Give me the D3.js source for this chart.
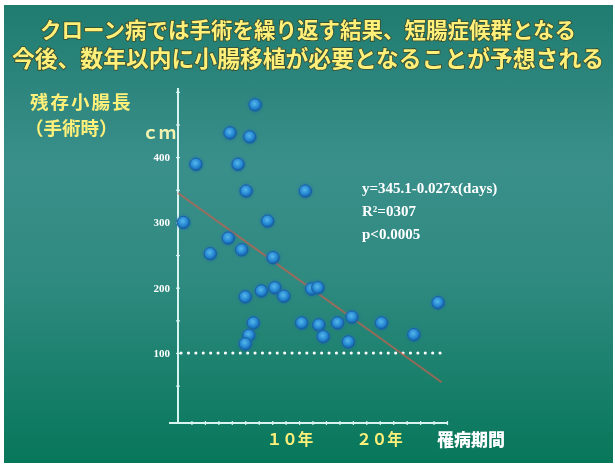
<!DOCTYPE html>
<html>
<head>
<meta charset="utf-8">
<script src="https://cdn.jsdelivr.net/npm/d3@7/dist/d3.min.js"></script>
<style>
  html, body { margin: 0; padding: 0; background: #ffffff; }
  svg { display: block; }
</style>
</head>
<body>
<svg id="chart" width="615" height="465"></svg>
<script>
// Title lines
const titleLines = [
  "クローン病では手術を繰り返す結果、短腸症候群となる",
  "今後、数年以内に小腸移植が必要となることが予想される"
];
// Axis labels
const yLabelLines = ["残存小腸長", "（手術時）"];
const yUnit = "ｃｍ";
const xLabel = "罹病期間";
const yTickValues = [100, 200, 300, 400];
const xTickLabels = [{ year: 10, text: "１０年" }, { year: 20, text: "２０年" }];
// Disease duration (years) and remaining small-bowel length (cm) at surgery
const durationYears = [8.6, 5.8, 8.0, 2.0, 6.7, 7.6, 14.2, 0.6, 10.0, 5.6, 7.1, 3.6, 10.6,
  7.5, 9.3, 10.8, 11.8, 14.9, 15.6, 8.4, 7.9, 7.5, 13.8, 15.7, 16.2, 17.8, 19.4, 19.0, 22.7, 26.3, 29.0];
const lengthCm = [480, 437, 431, 389, 389, 348, 348, 300, 302, 276, 258, 252, 246,
  186, 195, 200, 187, 198, 200, 146, 127, 114, 146, 143, 125, 146, 155, 117, 146, 128, 177];
// Regression: y = 345.1 - 0.027 x (x in days)
const regIntercept = 345.1;
const regSlopePerDay = -0.027;
const statLines = ["y=345.1-0.027x(days)", "R²=0307", "p<0.0005"];
const thresholdCm = 100;

const svg = d3.select("#chart");
const defs = svg.append("defs");

const bg = defs.append("linearGradient").attr("id", "bg")
  .attr("x1", 0).attr("y1", 0).attr("x2", 0).attr("y2", 1);
bg.append("stop").attr("offset", "0%").attr("stop-color", "#1f7c6f");
bg.append("stop").attr("offset", "35%").attr("stop-color", "#3a8f8b");
bg.append("stop").attr("offset", "60%").attr("stop-color", "#2f8a80");
bg.append("stop").attr("offset", "100%").attr("stop-color", "#07775a");

const dotGrad = defs.append("radialGradient").attr("id", "dot")
  .attr("cx", "45%").attr("cy", "40%").attr("r", "60%");
dotGrad.append("stop").attr("offset", "0%").attr("stop-color", "#56b8ec");
dotGrad.append("stop").attr("offset", "60%").attr("stop-color", "#2688d2");
dotGrad.append("stop").attr("offset", "100%").attr("stop-color", "#145ca4");

const soft = defs.append("filter").attr("id", "soft")
  .attr("x", "-20%").attr("y", "-20%").attr("width", "140%").attr("height", "140%");
soft.append("feGaussianBlur").attr("stdDeviation", 0.6);

const glow = defs.append("filter").attr("id", "glow")
  .attr("x", "-50%").attr("y", "-50%").attr("width", "200%").attr("height", "200%");
glow.append("feGaussianBlur").attr("in", "SourceGraphic").attr("stdDeviation", 1.6).attr("result", "b");
const gm = glow.append("feMerge");
gm.append("feMergeNode").attr("in", "b");
gm.append("feMergeNode").attr("in", "SourceGraphic");

svg.append("rect").attr("x", 4).attr("y", 5).attr("width", 609).attr("height", 458)
  .attr("fill", "url(#bg)");

// Title
svg.append("g").selectAll("text").data(titleLines).join("text")
  .attr("x", 308).attr("y", (d, i) => 38 + i * 29)
  .attr("text-anchor", "middle")
  .attr("font-family", "'Noto Sans CJK JP', sans-serif")
  .attr("font-weight", 700).attr("font-size", (d, i) => i === 0 ? 21.5 : 22.8)
  .attr("fill", "#fff07a").attr("stroke", "#3b4a2a").attr("stroke-width", 1.6)
  .attr("paint-order", "stroke").attr("filter", "url(#soft)")
  .text(d => d);

// Scales
const x = d3.scaleLinear().domain([0, 30]).range([178, 447]);
const y = d3.scaleLinear().domain([0, 500]).range([418.3, 91.8]);

const axisColor = "#d8f4f0";

// Y axis
const yAxis = d3.axisLeft(y).tickValues(d3.range(50, 501, 50)).tickSize(5).tickFormat("");
const gy = svg.append("g").attr("transform", "translate(178,0)").call(yAxis);
gy.select(".domain").remove();
gy.selectAll(".tick line").attr("stroke", axisColor).attr("stroke-width", 1.2)
  .attr("x2", -4).attr("transform", "translate(2,0)");
svg.append("line").attr("x1", 178).attr("x2", 178).attr("y1", 88).attr("y2", 424)
  .attr("stroke", axisColor).attr("stroke-width", 2);

svg.append("g").selectAll("text").data(yTickValues).join("text")
  .attr("x", 170).attr("y", d => y(d) + 4)
  .attr("text-anchor", "end")
  .attr("font-family", "'Liberation Serif', serif").attr("font-weight", 700)
  .attr("font-size", 11).attr("fill", "#ffffff").attr("filter", "url(#soft)")
  .text(d => d);

// X axis
const xAxis = d3.axisBottom(x).tickValues(d3.range(1.5, 30.1, 1.5)).tickSize(4).tickFormat("");
const gx = svg.append("g").attr("transform", "translate(0,423)").call(xAxis);
gx.select(".domain").remove();
gx.selectAll(".tick line").attr("stroke", axisColor).attr("stroke-width", 1.2)
  .attr("transform", "translate(0,-2)");
svg.append("line").attr("x1", 169).attr("x2", 447).attr("y1", 423).attr("y2", 423)
  .attr("stroke", axisColor).attr("stroke-width", 2);

svg.append("g").selectAll("text").data(xTickLabels).join("text")
  .attr("x", d => x(d.year) - 1).attr("y", 445)
  .attr("font-family", "'Noto Sans CJK JP', sans-serif").attr("font-weight", 700)
  .attr("font-size", 15.5).attr("fill", "#fff07a").attr("filter", "url(#soft)")
  .text(d => d.text);

svg.append("text").attr("x", 437).attr("y", 446)
  .attr("font-family", "'Noto Sans CJK JP', sans-serif").attr("font-weight", 900)
  .attr("font-size", 17).attr("fill", "#ffffff").attr("filter", "url(#soft)")
  .text(xLabel);

// Y axis title
svg.append("g").selectAll("text").data(yLabelLines).join("text")
  .attr("x", (d, i) => i === 0 ? 30 : 25).attr("y", (d, i) => 109 + i * 26)
  .attr("font-family", "'Noto Sans CJK JP', sans-serif").attr("font-weight", 700)
  .attr("font-size", 18.5).attr("letter-spacing", (d, i) => i === 0 ? 2 : 0)
  .attr("fill", "#fff07a").attr("filter", "url(#soft)")
  .text(d => d);
svg.append("text").attr("x", 142).attr("y", 139)
  .attr("font-family", "'Noto Sans CJK JP', sans-serif").attr("font-weight", 700)
  .attr("font-size", 17).attr("fill", "#f4f2b0").attr("filter", "url(#soft)")
  .text(yUnit);

// 100 cm threshold (dotted)
svg.append("line").attr("x1", 181).attr("x2", 447)
  .attr("y1", y(thresholdCm)).attr("y2", y(thresholdCm))
  .attr("stroke", "#ffffff").attr("stroke-width", 3)
  .attr("stroke-linecap", "round").attr("stroke-dasharray", "0.1,7.3");

// Regression line
const regEnd = 29.4;
const regY = yr => regIntercept + regSlopePerDay * yr * 365.25;
svg.append("line")
  .attr("x1", x(0)).attr("y1", y(regY(0)))
  .attr("x2", x(regEnd)).attr("y2", y(regY(regEnd)))
  .attr("stroke", "#c8604f").attr("stroke-opacity", 0.7).attr("stroke-width", 2);

// Points
const pts = durationYears.map((d, i) => ({ x: d, y: lengthCm[i] }));
svg.append("g").selectAll("circle").data(pts).join("circle")
  .attr("cx", d => x(d.x)).attr("cy", d => y(d.y)).attr("r", 6.2)
  .attr("fill", "url(#dot)").attr("stroke", "#1a5ea0").attr("stroke-width", 1)
  .attr("filter", "url(#glow)");

// Statistics
svg.append("g").selectAll("text").data(statLines).join("text")
  .attr("x", 362).attr("y", (d, i) => 193 + i * 23)
  .attr("font-family", "'Liberation Serif', serif").attr("font-weight", 700)
  .attr("font-size", 15).attr("fill", "#ffffff").attr("filter", "url(#soft)")
  .text(d => d);
</script>
</body>
</html>
